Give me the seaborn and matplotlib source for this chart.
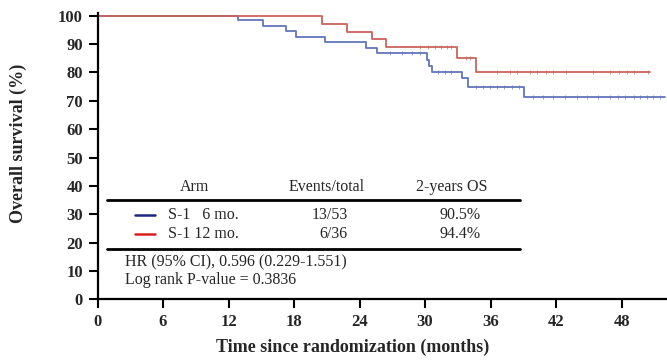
import numpy as np
import pandas as pd
import seaborn as sns
import matplotlib.pyplot as plt

# Kaplan-Meier steps (months, % surviving)
blue_times = [0, 12.84, 15.18, 17.26, 18.15, 20.83, 24.59, 25.57, 30.15, 30.4, 30.6, 33.4, 33.9, 39.08]
blue_surv = [100, 98.4, 96.5, 94.6, 92.5, 90.6, 88.5, 86.7, 84.5, 82.3, 80.0, 77.9, 75.0, 71.4]
blue_end = 52.0
blue_censor = [26.8, 27.9, 28.8, 29.5, 31.2, 31.8, 32.4, 34.7, 35.3, 35.9, 36.6, 37.2, 38.0, 38.6,
               39.9, 40.8, 41.7, 42.8, 43.9, 44.8, 45.8, 46.9, 47.7, 48.3, 49.1, 49.7, 50.3, 50.9, 51.5]

red_times = [0, 20.53, 22.82, 25.16, 26.39, 32.89, 34.63]
red_surv = [100, 97.2, 94.4, 91.8, 88.8, 85.0, 80.3]
red_end = 50.6
red_censor = [29.5, 30.3, 30.9, 31.5, 32.0, 32.4, 33.7, 34.1, 36.6, 37.8, 38.4, 39.6, 40.2, 41.1,
              41.7, 42.9, 45.4, 46.9, 47.8, 48.5, 49.1, 50.4]

arms = ["S-1   6 mo.", "S-1 12 mo."]
events = ["13/53", "6/36"]
os2y = ["90.5%", "94.4%"]
hr_text = "HR (95% CI), 0.596 (0.229-1.551)"
p_text = "Log rank P-value = 0.3836"

curve_colors = ["#6275bb", "#c9655c"]
legend_colors = ["#1c2580", "#d81e1e"]

sns.set_style("ticks")
plt.rcParams["font.family"] = ["Liberation Serif", "DejaVu Serif"]

W, H = 667, 362
fig = plt.figure(figsize=(W / 100, H / 100), dpi=100)
ax = fig.add_axes([97.5 / W, 1 - 299.3 / H, 569.5 / W, 286 / H])


def km_frame(times, surv, end):
    return pd.DataFrame({"t": times + [end], "s": surv + [surv[-1]]})


def censor_frame(times, surv, cens):
    idx = np.searchsorted(times, cens, side="right") - 1
    return pd.DataFrame({"t": cens, "s": np.array(surv)[idx]})


for (times, surv, end, cens), col in zip(
        [(blue_times, blue_surv, blue_end, blue_censor),
         (red_times, red_surv, red_end, red_censor)], curve_colors):
    sns.lineplot(data=km_frame(times, surv, end), x="t", y="s", drawstyle="steps-post",
                 color=col, lw=1.3, ax=ax)
    cf = censor_frame(times, surv, cens)
    ax.plot(cf["t"], cf["s"], ls="none", marker="|", ms=3, mew=0.6, color=col, alpha=0.8)

ax.set_xlim(0, 52.15)
ax.set_ylim(0, 100.85)
ax.set_xticks(range(0, 49, 6))
ax.set_yticks(range(0, 101, 10))
sns.despine(ax=ax)
for s in ["left", "bottom"]:
    ax.spines[s].set_linewidth(1.6)
    ax.spines[s].set_color("black")
ax.tick_params(direction="out", length=6.5, width=1.5, color="black", labelsize=12, pad=4)
for lab in ax.get_xticklabels() + ax.get_yticklabels():
    lab.set_fontweight("bold")

ax.set_xlabel("Time since randomization (months)", fontsize=13, fontweight="bold")
ax.set_ylabel("Overall survival (%)", fontsize=13, fontweight="bold")
ax.xaxis.set_label_coords((353 - 97.5) / 569.5, -(347 - 299.3) / 286)
ax.xaxis.label.set_va("center")
ax.yaxis.set_label_coords((18 - 97.5) / 569.5, (299.3 - 143) / 286)
ax.yaxis.label.set_va("center")


def fx(px):
    return px / W


def fy(py):
    return 1 - py / H


tfs = 11.5
# header
fig.text(fx(195), fy(187), "Arm", ha="center", va="center", fontsize=tfs)
fig.text(fx(327), fy(187), "Events/total", ha="center", va="center", fontsize=tfs)
fig.text(fx(452), fy(187), "2-years OS", ha="center", va="center", fontsize=tfs)
for py in [200, 248.5]:
    fig.add_artist(plt.Line2D([fx(106.7), fx(520)], [fy(py), fy(py)], color="black", lw=2))

for i, rowy in enumerate([215, 233.5]):
    fig.add_artist(plt.Line2D([fx(135), fx(155)], [fy(rowy), fy(rowy)],
                              color=legend_colors[i], lw=1.8))
    fig.text(fx(168), fy(rowy), arms[i], ha="left", va="center", fontsize=tfs)
    fig.text(fx(348), fy(rowy), events[i], ha="right", va="center", fontsize=tfs)
    fig.text(fx(481), fy(rowy), os2y[i], ha="right", va="center", fontsize=tfs)

fig.text(fx(125), fy(262), hr_text, ha="left", va="center", fontsize=tfs)
fig.text(fx(125), fy(280.5), p_text, ha="left", va="center", fontsize=tfs)

fig.savefig("out.png", dpi=100)
